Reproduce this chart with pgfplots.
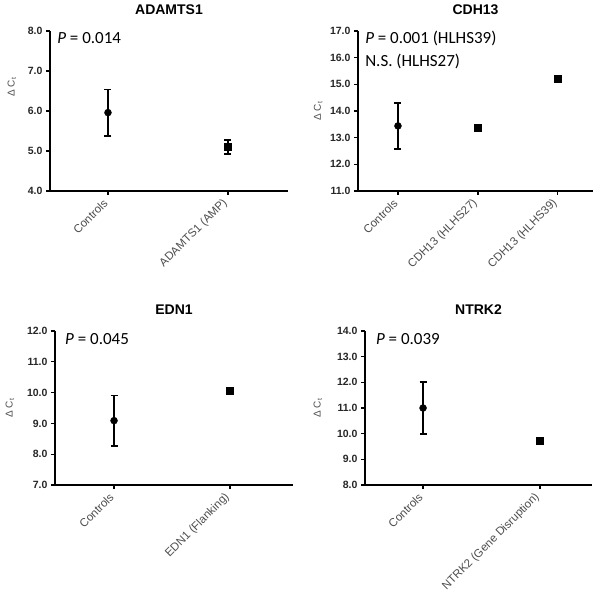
\documentclass[border=0pt]{standalone}
\usepackage{pgfplots}
\pgfplotsset{compat=1.18}
\usepackage{fontspec}
\setmainfont{Liberation Sans}
\newfontfamily\carlito{Carlito}
\definecolor{lbl}{HTML}{4D4D4D}

\tikzset{ptext/.style={anchor=west, inner sep=0pt, font=\carlito\fontsize{17}{19}\selectfont}}

\pgfplotsset{
  panel/.style={
    scale only axis, anchor=south west, clip=false,
    axis lines=left,
    axis line style={line width=1.6pt, -},
    every tick/.style={line width=1.2pt, black},
    major tick length=4pt,
    tick align=outside,
    ytick distance=1,
    /pgf/number format/assume math mode=true,
    yticklabel style={/pgf/number format/fixed, /pgf/number format/fixed zerofill,
      /pgf/number format/precision=1,
      font=\bfseries\fontsize{10.5}{12}\selectfont, text=black!85},
    xticklabel style={rotate=45, anchor=east, font=\fontsize{11.5}{13}\selectfont, text=lbl},
    xticklabel shift=4pt,
    ylabel={Δ C\textsubscript{t}},
    ylabel style={font=\fontsize{10}{11}\selectfont, text=lbl, anchor=center},
    title style={at={(axis description cs:0.5,1)}, anchor=center, yshift=15pt,
      font=\bfseries\fontsize{14}{16}\selectfont},
  },
  ebars/.style={
    /pgfplots/error bars/y dir=both, /pgfplots/error bars/y explicit,
    /pgfplots/error bars/error bar style={line width=1.8pt, black},
    /pgfplots/error bars/error mark options={rotate=90, mark size=3.5pt, line width=1.6pt, black},
  },
  ctrl/.style={black, only marks, mark=*, mark size=3.5pt, mark options={fill=black}, ebars},
  grp/.style={black, only marks, mark=square*, mark size=3.5pt, mark options={fill=black}, ebars},
}

\begin{document}
\begin{tikzpicture}
\path[use as bounding box] (0,0) rectangle (600pt,595pt);

% ADAMTS1
\begin{axis}[panel, at={(50pt,404pt)}, width=238pt, height=160pt,
  xmin=-0.483, xmax=1.5, ymin=4, ymax=8,
  xtick={0,1}, xticklabels={Controls, ADAMTS1 (AMP)},
  ylabel style={at={(axis description cs:-0.16,0.65)}},
  title={ADAMTS1}]
  \addplot[ctrl] coordinates {(0,5.96) +- (0,0.58)};
  \addplot[grp] coordinates {(1,5.10) +- (0,0.18)};
  \node[ptext] at (rel axis cs:0.03,0.956) {\textit{P} = 0.014};
\end{axis}

% CDH13
\begin{axis}[panel, at={(358pt,404pt)}, width=235pt, height=160pt,
  xmin=-0.5, xmax=2.44, ymin=11, ymax=17,
  xtick={0,1,2}, xticklabels={Controls, CDH13 (HLHS27), CDH13 (HLHS39)},
  ylabel style={at={(axis description cs:-0.17,0.5)}},
  title={CDH13}]
  \addplot[ctrl] coordinates {(0,13.44) +- (0,0.87)};
  \addplot[grp] coordinates {(1,13.36) +- (0,0.08)};
  \addplot[grp] coordinates {(2,15.21) +- (0,0.0)};
  \node[ptext] at (rel axis cs:0.03,0.956) {\textit{P} = 0.001 (HLHS39)};
  \node[ptext] at (rel axis cs:0.03,0.8125) {N.S. (HLHS27)};
\end{axis}

% EDN1
\begin{axis}[panel, at={(55pt,110pt)}, width=238pt, height=154pt,
  xmin=-0.509, xmax=1.543, ymin=7, ymax=12,
  xtick={0,1}, xticklabels={Controls, EDN1 (Flanking)},
  ylabel style={at={(axis description cs:-0.189,0.5)}},
  title={EDN1}]
  \addplot[ctrl] coordinates {(0,9.09) +- (0,0.815)};
  \addplot[grp] coordinates {(1,10.06) +- (0,0.0)};
  \node[ptext] at (rel axis cs:0.042,0.948) {\textit{P} = 0.045};
\end{axis}

% NTRK2
\begin{axis}[panel, at={(365pt,110pt)}, width=227pt, height=154pt,
  xmin=-0.496, xmax=1.444, ymin=8, ymax=14,
  xtick={0,1}, xticklabels={Controls, NTRK2 (Gene Disruption)},
  ylabel style={at={(axis description cs:-0.207,0.5)}},
  title={NTRK2}]
  \addplot[ctrl] coordinates {(0,11.0) +- (0,1.02)};
  \addplot[grp] coordinates {(1,9.73) +- (0,0.05)};
  \node[ptext] at (rel axis cs:0.048,0.948) {\textit{P} = 0.039};
\end{axis}
\end{tikzpicture}
\end{document}
